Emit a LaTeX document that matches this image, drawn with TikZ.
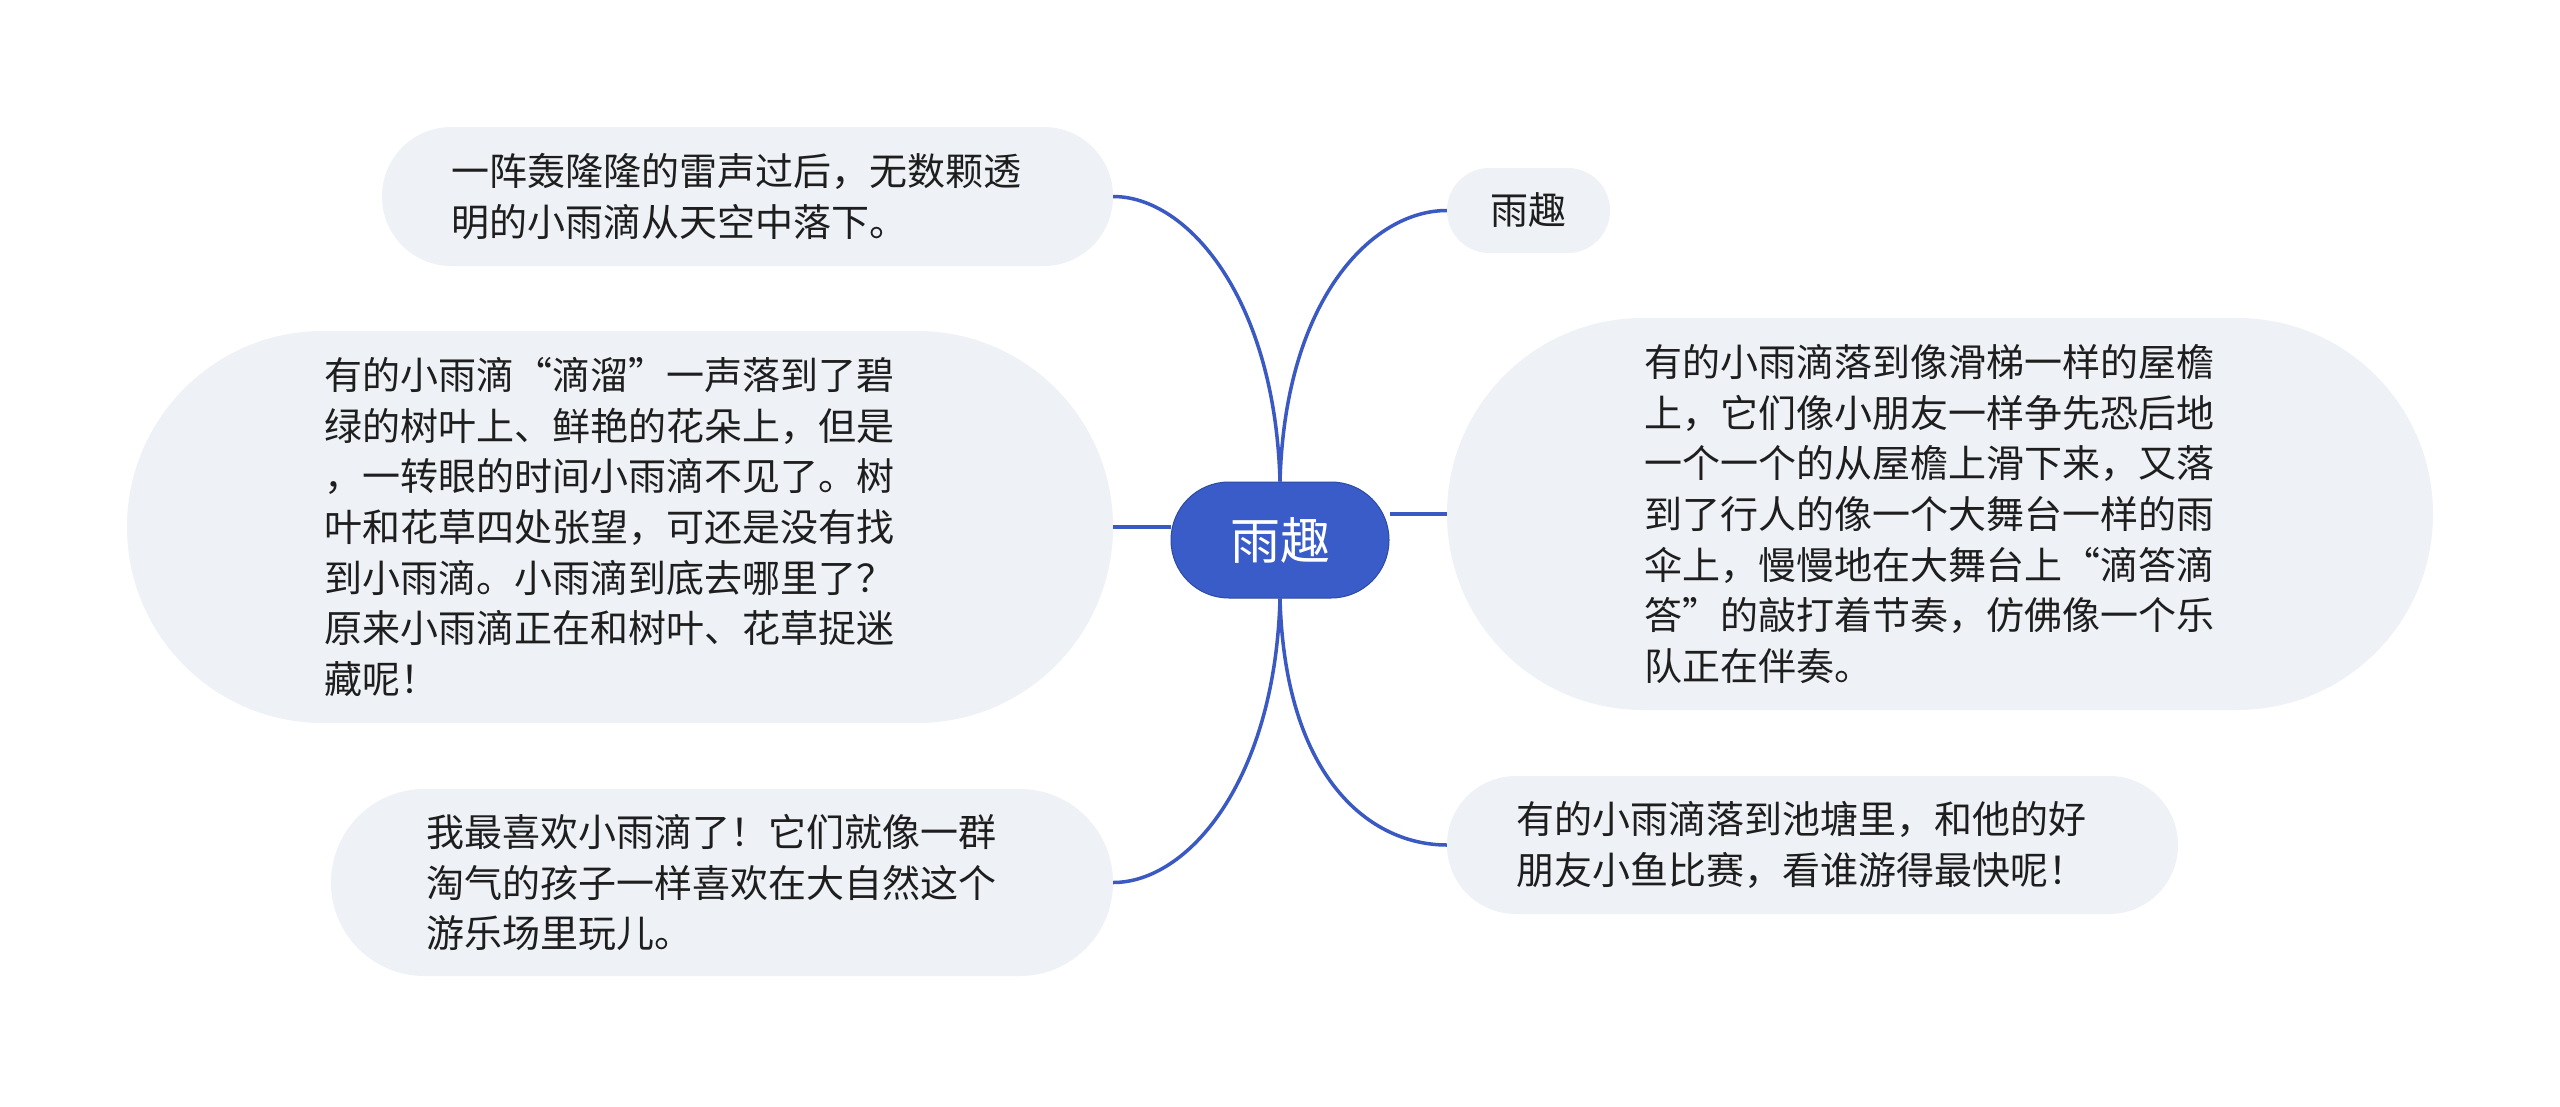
\documentclass[tikz,border=0pt]{standalone}
\usepackage{fontspec}
\setmainfont{Noto Sans CJK SC}
\definecolor{bubblefill}{HTML}{EEF1F5}
\definecolor{mainblue}{HTML}{3A5CC8}
\definecolor{linkblue}{HTML}{3A59C2}
\definecolor{txt}{HTML}{1E1E1E}
\tikzset{
  bubble/.style={fill=bubblefill, inner sep=0pt, text=txt,
    font=\fontsize{38}{50.6}\selectfont},
  para/.style={align=left, text width=592pt},
  centre/.style={fill=mainblue, draw=mainblue!80!black, line width=1pt, inner sep=0pt,
    text=white, font=\fontsize{50}{60}\selectfont,
    minimum width=218pt, minimum height=116pt, rounded corners=57.9pt},
  link/.style={draw=linkblue, line width=3.5pt}
}
\begin{document}
\begin{tikzpicture}[x=1pt,y=-1pt]
\useasboundingbox (0,0) rectangle (2560,1106);
\fill[white] (0,0) rectangle (2560,1106);

\node[centre] (c) at (1280,540) {雨趣};

\node[bubble,para,minimum width=731pt,minimum height=139pt,rounded corners=69.4pt] (n1) at (747.5,196.5)
  {一阵轰隆隆的雷声过后，无数颗透\\明的小雨滴从天空中落下。};

\node[bubble,para,minimum width=986pt,minimum height=392pt,rounded corners=195.9pt] (n2) at (620,527)
  {有的小雨滴“滴溜”一声落到了碧\\绿的树叶上、鲜艳的花朵上，但是\\，一转眼的时间小雨滴不见了。树\\叶和花草四处张望，可还是没有找\\到小雨滴。小雨滴到底去哪里了？\\原来小雨滴正在和树叶、花草捉迷\\藏呢！};

\node[bubble,para,minimum width=782pt,minimum height=187pt,rounded corners=93.4pt] (n3) at (722,882.5)
  {我最喜欢小雨滴了！它们就像一群\\淘气的孩子一样喜欢在大自然这个\\游乐场里玩儿。};

\node[bubble,minimum width=163pt,minimum height=85pt,rounded corners=42.4pt] (n4) at (1528.5,210.5)
  {雨趣};

\node[bubble,para,minimum width=986pt,minimum height=392pt,rounded corners=195.9pt] (n5) at (1940,514)
  {有的小雨滴落到像滑梯一样的屋檐\\上，它们像小朋友一样争先恐后地\\一个一个的从屋檐上滑下来，又落\\到了行人的像一个大舞台一样的雨\\伞上，慢慢地在大舞台上“滴答滴\\答”的敲打着节奏，仿佛像一个乐\\队正在伴奏。};

\node[bubble,para,minimum width=731pt,minimum height=138pt,rounded corners=68.9pt] (n6) at (1812.5,845)
  {有的小雨滴落到池塘里，和他的好\\朋友小鱼比赛，看谁游得最快呢！};

\draw[link] (n1.east) .. controls +(75,0) and +(-5,-182) .. (c.north);
\draw[link] (n4.west) .. controls +(-75,0) and +(5,-182) .. (c.north);
\draw[link] (n3.east) .. controls +(75,0) and +(-5,182) .. (c.south);
\draw[link] (n6.west) .. controls +(-75,0) and +(5,182) .. (c.south);
\draw[link] (n2.east) -- (c.west |- n2.east);
\draw[link] (n5.west) -- (c.east |- n5.west);
\end{tikzpicture}
\end{document}
